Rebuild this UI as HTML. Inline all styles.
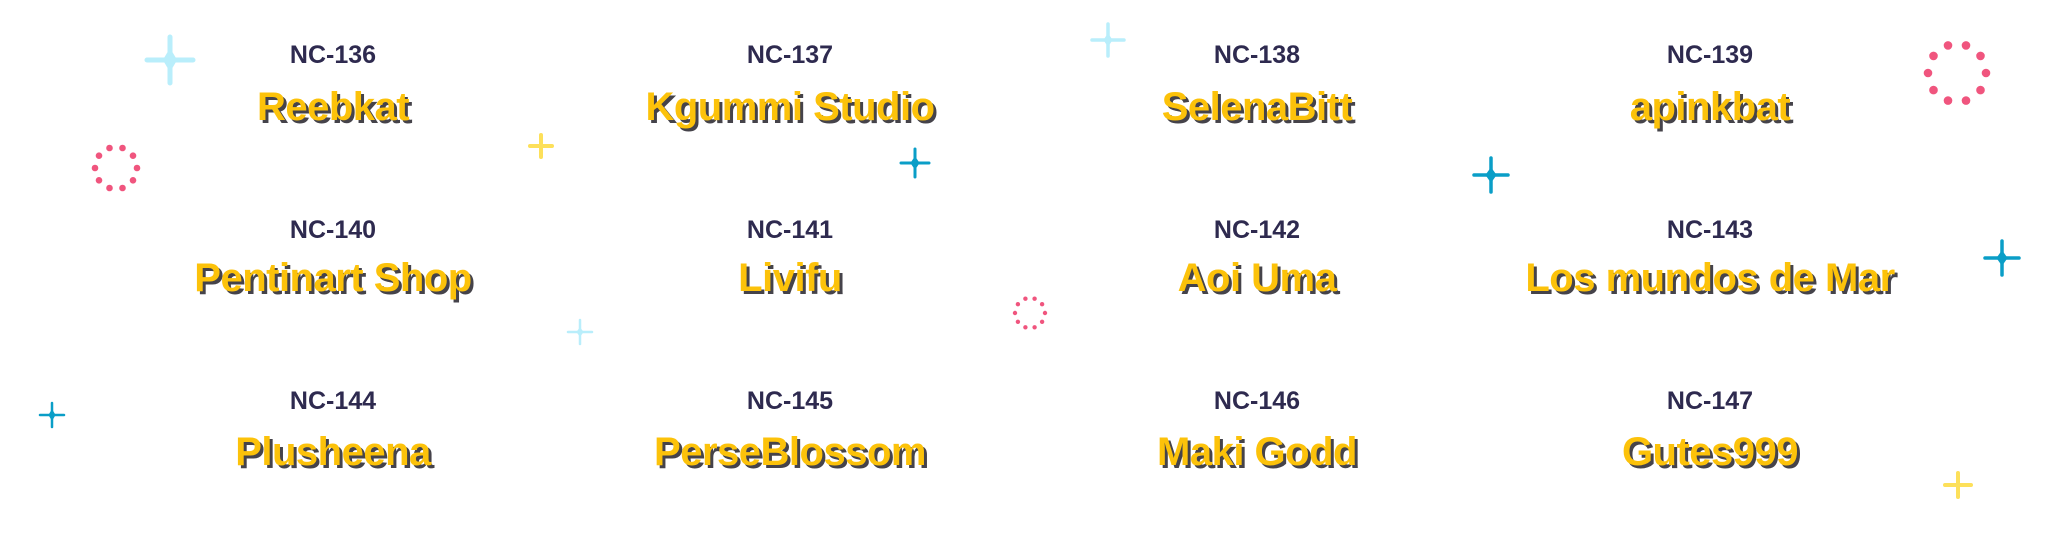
<!DOCTYPE html>
<html><head><meta charset="utf-8"><style>
html,body{margin:0;padding:0;background:#fff;}
#c{position:relative;width:2048px;height:550px;overflow:hidden;background:#fff;font-family:"Liberation Sans",sans-serif;}
.l{position:absolute;width:600px;margin-left:-300px;text-align:center;font-weight:bold;color:#2e2a4f;font-size:25px;line-height:30px;}
.n{position:absolute;width:700px;margin-left:-350px;text-align:center;font-weight:bold;color:#fcc20a;font-size:40px;line-height:48px;text-shadow:3px 3px 0 #45434a;letter-spacing:-0.5px;}
svg{position:absolute;left:0;top:0;}
</style></head><body><div id="c">
<svg width="2048" height="550">
<g stroke="#b9eefb" stroke-linecap="round" fill="#b9eefb">
<path stroke-width="5" d="M170,37V83M147,60H193"/>
<path d="M170,50 L176,60 L170,70 L164,60Z" stroke-width="2"/>
<path stroke-width="3.5" d="M1108,24V56M1092,40H1124"/>
<path d="M1108,34 L1112,40 L1108,46 L1104,40Z" stroke-width="1"/>
<path stroke-width="2.5" d="M580,320V344M568,332H592"/>
<path d="M580,328 L583,332 L580,336 L577,332Z" stroke-width="1"/>
</g>
<g stroke="#0a9ec7" stroke-linecap="round" fill="#0a9ec7">
<path stroke-width="3" d="M915,149V177M901,163H929"/>
<path d="M915,157 L919,163 L915,169 L911,163Z" stroke-width="1"/>
<path stroke-width="3.5" d="M1491,158V192M1474,175H1508"/>
<path d="M1491,168 L1496,175 L1491,182 L1486,175Z" stroke-width="1"/>
<path stroke-width="3.5" d="M2002,241V275M1985,258H2019"/>
<path d="M2002,251 L2007,258 L2002,265 L1997,258Z" stroke-width="1"/>
<path stroke-width="2.5" d="M52,403V427M40,415H64"/>
<path d="M52,410 L55,415 L52,420 L49,415Z" stroke-width="1"/>
</g>
<g stroke="#fde05a" stroke-width="4" stroke-linecap="round">
<path d="M541,135V157M530,146H552"/>
<path d="M1958,473V497M1945,485H1971"/>
</g>
<g fill="#f0557e">
<circle cx="137" cy="168" r="3.3"/><circle cx="133" cy="180.3" r="3.3"/><circle cx="122.5" cy="188" r="3.3"/><circle cx="109.5" cy="188" r="3.3"/><circle cx="99" cy="180.3" r="3.3"/><circle cx="95" cy="168" r="3.3"/><circle cx="99" cy="155.7" r="3.3"/><circle cx="109.5" cy="148" r="3.3"/><circle cx="122.5" cy="148" r="3.3"/><circle cx="133" cy="155.7" r="3.3"/>
<circle cx="1986" cy="73" r="4.3"/><circle cx="1980.5" cy="90.1" r="4.3"/><circle cx="1966" cy="100.6" r="4.3"/><circle cx="1948" cy="100.6" r="4.3"/><circle cx="1933.5" cy="90.1" r="4.3"/><circle cx="1928" cy="73" r="4.3"/><circle cx="1933.5" cy="55.9" r="4.3"/><circle cx="1948" cy="45.4" r="4.3"/><circle cx="1966" cy="45.4" r="4.3"/><circle cx="1980.5" cy="55.9" r="4.3"/>
<circle cx="1045" cy="313" r="2.2"/><circle cx="1042.1" cy="321.8" r="2.2"/><circle cx="1034.6" cy="327.3" r="2.2"/><circle cx="1025.4" cy="327.3" r="2.2"/><circle cx="1017.9" cy="321.8" r="2.2"/><circle cx="1015" cy="313" r="2.2"/><circle cx="1017.9" cy="304.2" r="2.2"/><circle cx="1025.4" cy="298.7" r="2.2"/><circle cx="1034.6" cy="298.7" r="2.2"/><circle cx="1042.1" cy="304.2" r="2.2"/>
</g>
</svg>
<div class="l" style="left:333px;top:40px">NC-136</div>
<div class="n" style="left:333px;top:83px">Reebkat</div>
<div class="l" style="left:790px;top:40px">NC-137</div>
<div class="n" style="left:790px;top:83px">Kgummi Studio</div>
<div class="l" style="left:1257px;top:40px">NC-138</div>
<div class="n" style="left:1257px;top:83px">SelenaBitt</div>
<div class="l" style="left:1710px;top:40px">NC-139</div>
<div class="n" style="left:1710px;top:83px">apinkbat</div>

<div class="l" style="left:333px;top:215px">NC-140</div>
<div class="n" style="left:333px;top:254px">Pentinart Shop</div>
<div class="l" style="left:790px;top:215px">NC-141</div>
<div class="n" style="left:790px;top:254px">Livifu</div>
<div class="l" style="left:1257px;top:215px">NC-142</div>
<div class="n" style="left:1257px;top:254px">Aoi Uma</div>
<div class="l" style="left:1710px;top:215px">NC-143</div>
<div class="n" style="left:1710px;top:254px">Los mundos de Mar</div>

<div class="l" style="left:333px;top:386px">NC-144</div>
<div class="n" style="left:333px;top:428px">Plusheena</div>
<div class="l" style="left:790px;top:386px">NC-145</div>
<div class="n" style="left:790px;top:428px">PerseBlossom</div>
<div class="l" style="left:1257px;top:386px">NC-146</div>
<div class="n" style="left:1257px;top:428px">Maki Godd</div>
<div class="l" style="left:1710px;top:386px">NC-147</div>
<div class="n" style="left:1710px;top:428px">Gutes999</div>
</div></body></html>
